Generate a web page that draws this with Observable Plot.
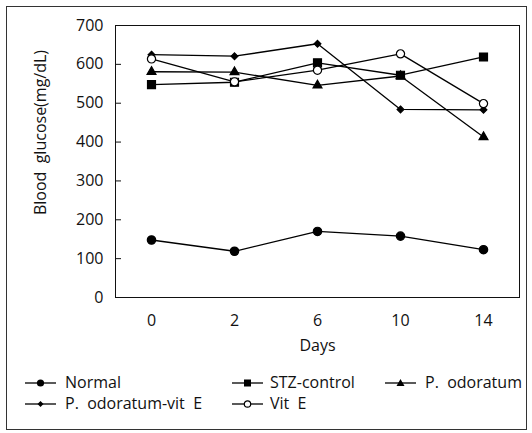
<!DOCTYPE html>
<html>
<head>
<meta charset="utf-8">
<script src="https://cdn.jsdelivr.net/npm/d3@7"></script>
<script src="https://cdn.jsdelivr.net/npm/@observablehq/plot@0.6"></script>
<style>
  body { margin: 0; background: #fff; }
  #fig { position: relative; width: 532px; height: 433px; font-family: "Open Sans", sans-serif; color: #111; }
  #border { position: absolute; left: 6px; top: 6px; width: 521px; height: 424px; border: 1px solid #333; box-sizing: border-box; }
  #chart { position: absolute; left: 0; top: 0; }
  .sym { position: absolute; }
  .lab { position: absolute; font-size: 16px; line-height: 18px; white-space: nowrap; }
</style>
</head>
<body>
<div id="fig">
  <div id="border"></div>
  <div id="chart"></div>
  <div id="legend"></div>
</div>
<script>
const days = ["0", "2", "6", "10", "14"];
const yTicks = [0, 100, 200, 300, 400, 500, 600, 700];
const seriesNames = ["Normal", "STZ-control", "P. odoratum", "P. odoratum-vit E", "Vit E"];
const normal = [148, 119, 170, 158, 123];
const stzControl = [548, 554, 604, 572, 619];
const pOdoratum = [581, 580, 546, 570, 413];
const pOdoratumVitE = [625, 621, 653, 484, 483];
const vitE = [614, 555, 585, 627, 499];

const seriesValues = [normal, stzControl, pOdoratum, pOdoratumVitE, vitE];

const diamondSym = {
  draw(ctx, size) {
    const r = Math.sqrt(size / 2);
    ctx.moveTo(0, -r); ctx.lineTo(r, 0); ctx.lineTo(0, r); ctx.lineTo(-r, 0); ctx.closePath();
  }
};
const styles = {
  "Normal": {symbol: "circle", r: 4.2, fill: "#000"},
  "STZ-control": {symbol: "square", r: 4.5, fill: "#000"},
  "P. odoratum": {symbol: "triangle", r: 3.3, fill: "#000"},
  "P. odoratum-vit E": {symbol: diamondSym, r: 2.7, fill: "#000"},
  "Vit E": {symbol: "circle", r: 4.1, fill: "#fff"}
};

const data = [];
seriesNames.forEach((name, i) => {
  seriesValues[i].forEach((v, j) => data.push({series: name, day: days[j], value: v}));
});

const marks = [
  Plot.frame({stroke: "#111", strokeWidth: 1}),
  Plot.axisY({ticks: yTicks, tickSize: -6, tickPadding: 18, label: null, fontSize: 16}),
  Plot.axisX({tickSize: 0, tickPadding: 17, label: "Days", labelAnchor: "center", labelOffset: 53, fontSize: 16}),
  Plot.text(["Blood  glucose(mg/dL)"], {frameAnchor: "left", textAnchor: "middle", rotate: -90, dx: -75, dy: -29, fontSize: 16})
];
seriesNames.forEach(name => {
  marks.push(Plot.line(data.filter(d => d.series === name), {x: "day", y: "value", stroke: "#000", strokeWidth: 1.3}));
});
seriesNames.forEach(name => {
  const s = styles[name];
  marks.push(Plot.dot(data.filter(d => d.series === name), {x: "day", y: "value", symbol: () => s.symbol, r: s.r, fill: s.fill, stroke: "#000", strokeWidth: 1.2}));
});

const chart = Plot.plot({
  width: 532,
  height: 358,
  marginLeft: 115,
  marginRight: 13,
  marginTop: 25,
  marginBottom: 61,
  style: {fontFamily: "'Open Sans', sans-serif", fontSize: "16px", color: "#111", background: "transparent"},
  x: {type: "point", domain: days, padding: 0.42},
  y: {domain: [0, 700]},
  symbol: {type: "identity"},
  marks
});
document.getElementById("chart").appendChild(chart);

function legendSymbol(name) {
  const w = 31, h = 14, cx = w / 2, cy = h / 2;
  let shape = "";
  if (name === "Normal") shape = `<circle cx="${cx}" cy="${cy}" r="3.6" fill="#000"/>`;
  else if (name === "STZ-control") shape = `<rect x="${cx-3.5}" y="${cy-3.5}" width="7" height="7" fill="#000"/>`;
  else if (name === "P. odoratum") shape = `<path d="M${cx},${cy-4}L${cx+4},${cy+3}L${cx-4},${cy+3}Z" fill="#000"/>`;
  else if (name === "P. odoratum-vit E") shape = `<path d="M${cx},${cy-3}L${cx+3},${cy}L${cx},${cy+3}L${cx-3},${cy}Z" fill="#000"/>`;
  else shape = `<circle cx="${cx}" cy="${cy}" r="3.2" fill="#fff" stroke="#000" stroke-width="1.2"/>`;
  return `<svg width="${w}" height="${h}" style="display:block"><line x1="0" x2="${w}" y1="${cy}" y2="${cy}" stroke="#000" stroke-width="1.3"/>${shape}</svg>`;
}
// [name, symbol left, text left, row center y]
const layout = [
  ["Normal", 25, 65, 383], ["STZ-control", 232, 270, 383], ["P. odoratum", 385, 425, 383],
  ["P. odoratum-vit E", 25, 65, 404], ["Vit E", 232, 270, 404]
];
const legend = document.getElementById("legend");
layout.forEach(([name, sx, tx, cy]) => {
  const s = document.createElement("div");
  s.className = "sym";
  s.style.left = sx + "px";
  s.style.top = (cy - 7) + "px";
  s.innerHTML = legendSymbol(name);
  legend.appendChild(s);
  const t = document.createElement("div");
  t.className = "lab";
  t.style.left = tx + "px";
  t.style.top = (cy - 10) + "px";
  t.textContent = name.replace(". ", ".\u00a0 ").replace(" E", "\u00a0 E");
  legend.appendChild(t);
});
</script>
</body>
</html>
